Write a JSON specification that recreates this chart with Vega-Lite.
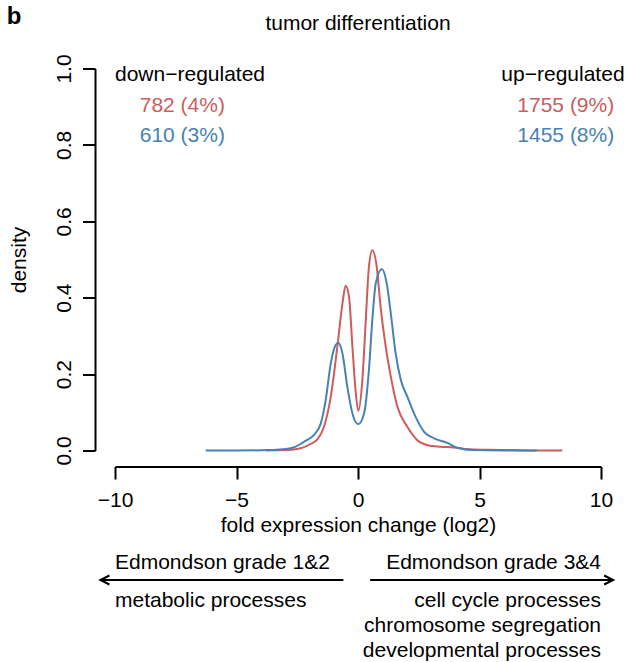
{
  "$schema": "https://vega.github.io/schema/vega-lite/v6.json",
  "width": 486,
  "height": 382,
  "autosize": {"type": "none"},
  "padding": {"left": 115, "top": 68.5, "right": 29, "bottom": 211.5},
  "background": "white",
  "config": {"font": "Liberation Sans", "view": {"stroke": null}, "axis": {"grid": false}},
  "datasets": {
    "curves": [
      {"series": "set1", "fc": -3.8, "density": 0.0},
      {"series": "set1", "fc": -3.0, "density": 0.001},
      {"series": "set1", "fc": -2.77, "density": 0.002},
      {"series": "set1", "fc": -2.36, "density": 0.006},
      {"series": "set1", "fc": -1.95, "density": 0.017},
      {"series": "set1", "fc": -1.67, "density": 0.029},
      {"series": "set1", "fc": -1.4, "density": 0.062},
      {"series": "set1", "fc": -1.12, "density": 0.141},
      {"series": "set1", "fc": -0.85, "density": 0.272},
      {"series": "set1", "fc": -0.64, "density": 0.385},
      {"series": "set1", "fc": -0.51, "density": 0.431},
      {"series": "set1", "fc": -0.37, "density": 0.403},
      {"series": "set1", "fc": -0.23, "density": 0.272},
      {"series": "set1", "fc": -0.09, "density": 0.15},
      {"series": "set1", "fc": 0.01, "density": 0.104},
      {"series": "set1", "fc": 0.18, "density": 0.185},
      {"series": "set1", "fc": 0.32, "density": 0.342},
      {"series": "set1", "fc": 0.45, "density": 0.481},
      {"series": "set1", "fc": 0.59, "density": 0.524},
      {"series": "set1", "fc": 0.77, "density": 0.481},
      {"series": "set1", "fc": 0.93, "density": 0.376},
      {"series": "set1", "fc": 1.14, "density": 0.272},
      {"series": "set1", "fc": 1.35, "density": 0.193},
      {"series": "set1", "fc": 1.62, "density": 0.115},
      {"series": "set1", "fc": 2.03, "density": 0.062},
      {"series": "set1", "fc": 2.44, "density": 0.027},
      {"series": "set1", "fc": 2.86, "density": 0.014},
      {"series": "set1", "fc": 3.4, "density": 0.01},
      {"series": "set1", "fc": 3.95, "density": 0.008},
      {"series": "set1", "fc": 4.5, "density": 0.003},
      {"series": "set1", "fc": 5.3, "density": 0.002},
      {"series": "set1", "fc": 6.3, "density": 0.001},
      {"series": "set1", "fc": 7.24, "density": 0.0},
      {"series": "set1", "fc": 8.41, "density": 0.0},
      {"series": "set2", "fc": -6.27, "density": 0.0},
      {"series": "set2", "fc": -5.0, "density": 0.0},
      {"series": "set2", "fc": -3.73, "density": 0.001},
      {"series": "set2", "fc": -2.77, "density": 0.006},
      {"series": "set2", "fc": -2.36, "density": 0.017},
      {"series": "set2", "fc": -2.22, "density": 0.023},
      {"series": "set2", "fc": -1.81, "density": 0.041},
      {"series": "set2", "fc": -1.53, "density": 0.071},
      {"series": "set2", "fc": -1.33, "density": 0.132},
      {"series": "set2", "fc": -1.12, "density": 0.228},
      {"series": "set2", "fc": -0.92, "density": 0.276},
      {"series": "set2", "fc": -0.81, "density": 0.282},
      {"series": "set2", "fc": -0.64, "density": 0.254},
      {"series": "set2", "fc": -0.44, "density": 0.167},
      {"series": "set2", "fc": -0.23, "density": 0.097},
      {"series": "set2", "fc": 0.01, "density": 0.069},
      {"series": "set2", "fc": 0.25, "density": 0.097},
      {"series": "set2", "fc": 0.45, "density": 0.211},
      {"series": "set2", "fc": 0.59, "density": 0.342},
      {"series": "set2", "fc": 0.73, "density": 0.438},
      {"series": "set2", "fc": 0.98, "density": 0.475},
      {"series": "set2", "fc": 1.18, "density": 0.438},
      {"series": "set2", "fc": 1.35, "density": 0.359},
      {"series": "set2", "fc": 1.55, "density": 0.254},
      {"series": "set2", "fc": 1.76, "density": 0.185},
      {"series": "set2", "fc": 2.03, "density": 0.141},
      {"series": "set2", "fc": 2.37, "density": 0.088},
      {"series": "set2", "fc": 2.72, "density": 0.049},
      {"series": "set2", "fc": 3.13, "density": 0.032},
      {"series": "set2", "fc": 3.68, "density": 0.02},
      {"series": "set2", "fc": 4.09, "density": 0.007},
      {"series": "set2", "fc": 4.77, "density": 0.001},
      {"series": "set2", "fc": 6.0, "density": 0.0},
      {"series": "set2", "fc": 7.36, "density": 0.0}
    ],
    "cutoffs": [{"fc": -0.585}, {"fc": 0.585}],
    "counts": [
      {"series": "set1", "label": "782 (4%)", "fc": -7.23, "density": 0.886},
      {"series": "set2", "label": "610 (3%)", "fc": -7.23, "density": 0.807},
      {"series": "set1", "label": "1755 (9%)", "fc": 8.55, "density": 0.886},
      {"series": "set2", "label": "1455 (8%)", "fc": 8.55, "density": 0.807}
    ],
    "notesLeft": [
      {"label": "down−regulated", "fc": -10.0, "density": 0.967},
      {"label": "Edmondson grade 1&2", "fc": -10.0, "density": -0.31},
      {"label": "metabolic processes", "fc": -10.0, "density": -0.41}
    ],
    "notesRight": [
      {"label": "up−regulated", "fc": 10.97, "density": 0.967},
      {"label": "Edmondson grade 3&4", "fc": 10.0, "density": -0.31},
      {"label": "cell cycle processes", "fc": 10.0, "density": -0.41},
      {"label": "chromosome segregation", "fc": 10.0, "density": -0.475},
      {"label": "developmental processes", "fc": 10.0, "density": -0.541}
    ],
    "heading": [{"label": "tumor differentiation", "fc": 0.0, "density": 1.1}],
    "panel": [{"label": "b", "fc": -14.45, "density": 1.116}],
    "arrows": [
      {"side": "left", "fc": -0.6, "fcEnd": -10.6, "density": -0.339},
      {"side": "right", "fc": 0.5, "fcEnd": 10.5, "density": -0.339}
    ]
  },
  "encoding": {
    "x": {
      "field": "fc", "type": "quantitative",
      "scale": {"domain": [-10, 10], "nice": false, "zero": false},
      "axis": {
        "title": "fold expression change (log2)",
        "values": [-10, -5, 0, 5, 10], "format": "d",
        "offset": 16, "tickSize": 12.5, "tickWidth": 2, "tickColor": "black",
        "domainColor": "black", "domainWidth": 2,
        "labelFontSize": 21, "labelColor": "black", "labelPadding": 27,
        "labelBaseline": "alphabetic", "labelFlush": false, "labelOverlap": false,
        "titleFontSize": 21, "titleFontWeight": "normal", "titleColor": "black",
        "titleX": 243, "titleY": 64.5, "titleBaseline": "alphabetic", "titleAlign": "center"
      }
    },
    "y": {
      "field": "density", "type": "quantitative",
      "scale": {"domain": [0, 1], "nice": false, "zero": false},
      "axis": {
        "title": "density",
        "values": [0, 0.2, 0.4, 0.6, 0.8, 1], "format": ".1f",
        "offset": 20, "tickSize": 12.5, "tickWidth": 2, "tickColor": "black",
        "domainColor": "black", "domainWidth": 2,
        "labelFontSize": 21, "labelColor": "black", "labelPadding": 12.5,
        "labelAngle": -90, "labelAlign": "center", "labelBaseline": "alphabetic",
        "labelFlush": false, "labelOverlap": false,
        "titleFontSize": 21, "titleFontWeight": "normal", "titleColor": "black",
        "titleAngle": -90, "titleX": -70, "titleY": 191, "titleBaseline": "alphabetic", "titleAlign": "center"
      }
    }
  },
  "layer": [
    {
      "data": {"name": "cutoffs"},
      "mark": {"type": "rule", "color": "black", "strokeWidth": 2, "strokeDash": [2, 6.33]},
      "encoding": {"y": {"datum": -0.04}, "y2": {"datum": 1.04}}
    },
    {
      "data": {"name": "curves"},
      "mark": {"type": "line", "strokeWidth": 2, "interpolate": "monotone"},
      "encoding": {
        "color": {"field": "series", "type": "nominal", "scale": {"domain": ["set1", "set2"], "range": ["#CD5C5C", "#4682B4"]}, "legend": null}
      }
    },
    {
      "data": {"name": "counts"},
      "mark": {"type": "text", "fontSize": 21, "align": "center", "baseline": "alphabetic"},
      "encoding": {
        "text": {"field": "label"},
        "color": {"field": "series", "type": "nominal", "scale": {"domain": ["set1", "set2"], "range": ["#CD5C5C", "#4682B4"]}, "legend": null}
      }
    },
    {
      "data": {"name": "notesLeft"},
      "mark": {"type": "text", "fontSize": 21, "align": "left", "baseline": "alphabetic", "color": "black"},
      "encoding": {"text": {"field": "label"}}
    },
    {
      "data": {"name": "notesRight"},
      "mark": {"type": "text", "fontSize": 21, "align": "right", "baseline": "alphabetic", "color": "black"},
      "encoding": {"text": {"field": "label"}}
    },
    {
      "data": {"name": "heading"},
      "mark": {"type": "text", "fontSize": 21, "align": "center", "baseline": "alphabetic", "color": "black"},
      "encoding": {"text": {"field": "label"}}
    },
    {
      "data": {"name": "panel"},
      "mark": {"type": "text", "fontSize": 24, "fontWeight": "bold", "align": "left", "baseline": "alphabetic", "color": "black"},
      "encoding": {"text": {"field": "label"}}
    },
    {
      "data": {"name": "arrows"},
      "mark": {"type": "rule", "color": "black", "strokeWidth": 2},
      "encoding": {"x2": {"field": "fcEnd"}}
    },
    {
      "data": {"name": "arrows"},
      "mark": {"type": "point", "filled": false, "color": "black", "strokeWidth": 2, "opacity": 1, "size": 324},
      "encoding": {
        "x": {"field": "fcEnd", "type": "quantitative"},
        "shape": {"field": "side", "type": "nominal", "scale": {"domain": ["left", "right"], "range": ["M1,-0.5L0,0L1,0.5", "M-1,-0.5L0,0L-1,0.5"]}, "legend": null}
      }
    }
  ]
}
